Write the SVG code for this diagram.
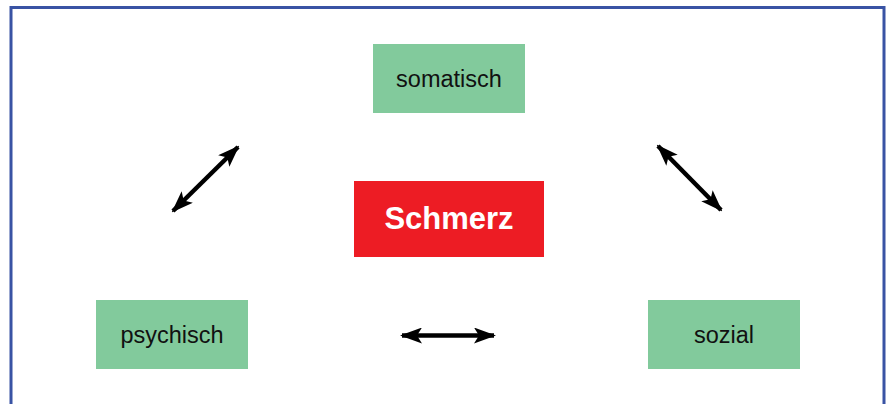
<svg xmlns="http://www.w3.org/2000/svg" width="888" height="404" viewBox="0 0 888 404">
<style>
.box{fill:#82CA9C}
.lbl{font-family:"Liberation Sans",Arial,sans-serif;font-size:23.5px;fill:#111;text-anchor:middle}
.main{font-family:"Liberation Sans",Arial,sans-serif;font-size:31px;font-weight:bold;fill:#fff;text-anchor:middle}
.con{stroke:#000;stroke-width:4.5;fill:none;marker-start:url(#ah);marker-end:url(#ah)}
</style>
<defs>
<marker id="ah" viewBox="0 0 22 16" refX="20" refY="8" markerWidth="22" markerHeight="16" markerUnits="userSpaceOnUse" orient="auto-start-reverse">
<path d="M0,0 L22,8 L0,16 L5,8 Z" fill="#000"/>
</marker>
</defs>
<rect width="888" height="404" fill="#fff"/>
<path d="M11,410 V7.5 H884 V410" fill="none" stroke="#3953A4" stroke-width="3"/>
<g id="somatisch"><rect class="box" x="373" y="44" width="152" height="69"/><text class="lbl" x="449" y="87">somatisch</text></g>
<g id="schmerz"><rect x="354" y="181" width="190" height="76" fill="#ED1C24"/><text class="main" x="449" y="229">Schmerz</text></g>
<g id="psychisch"><rect class="box" x="96" y="300" width="152" height="69"/><text class="lbl" x="172" y="343">psychisch</text></g>
<g id="sozial"><rect class="box" x="648" y="300" width="152" height="69"/><text class="lbl" x="724" y="343">sozial</text></g>
<g id="connectors">
<line class="con" x1="173" y1="211" x2="238" y2="147"/>
<line class="con" x1="658" y1="146" x2="721" y2="210"/>
<line class="con" x1="402" y1="335.5" x2="494" y2="335.5"/>
</g>
</svg>
